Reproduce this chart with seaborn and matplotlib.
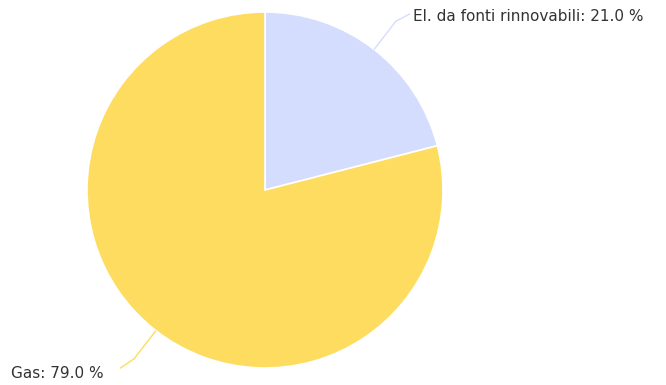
import numpy as np
import matplotlib
matplotlib.use("Agg")
import matplotlib.pyplot as plt
from matplotlib.path import Path
from matplotlib.patches import PathPatch
import seaborn as sns

# dati
labels = ["El. da fonti rinnovabili", "Gas"]
shares = [21.0, 79.0]
colors = ["#d5ddfe", "#fedc5f"]

sns.set_theme(style="white")
plt.rcParams["font.family"] = ["DejaVu Sans"]

W, H = 666, 385
fig = plt.figure(figsize=(W / 100, H / 100), dpi=100)
cx, cy, R = 265, 190, 178
ax = fig.add_axes([(cx - R) / W, (H - cy - R) / H, 2 * R / W, 2 * R / H])

wedges, _ = ax.pie(shares, colors=colors, startangle=90, counterclock=False,
                   radius=1, wedgeprops=dict(edgecolor="white", linewidth=1.2))
ax.set_xlim(-1, 1)
ax.set_ylim(-1, 1)
ax.set_aspect("equal")
ax.axis("off")

# etichette con connettori curvi
label_pos = [(0.831, 0.975, "left"), (-0.905, -1.03, "right")]
line_end = [(0.815, 0.99), (-0.815, -1.002)]
for w, lab, val, col, (tx, ty, ha), (ex, ey) in zip(wedges, labels, shares, colors, label_pos, line_end):
    mid = np.deg2rad((w.theta1 + w.theta2) / 2)
    p0 = (np.cos(mid), np.sin(mid))
    p1 = (1.2 * np.cos(mid), 1.2 * np.sin(mid))
    path = Path([p0, p1, p1, (ex, ey)],
                [Path.MOVETO, Path.LINETO, Path.CURVE3, Path.CURVE3])
    ax.add_patch(PathPatch(path, fill=False, edgecolor=col, lw=1, clip_on=False))
    ax.text(tx, ty, f"{lab}: {val:.1f} %", ha=ha, va="center", fontsize=11,
            color="#333333", clip_on=False)

fig.savefig("out.png", dpi=100)
